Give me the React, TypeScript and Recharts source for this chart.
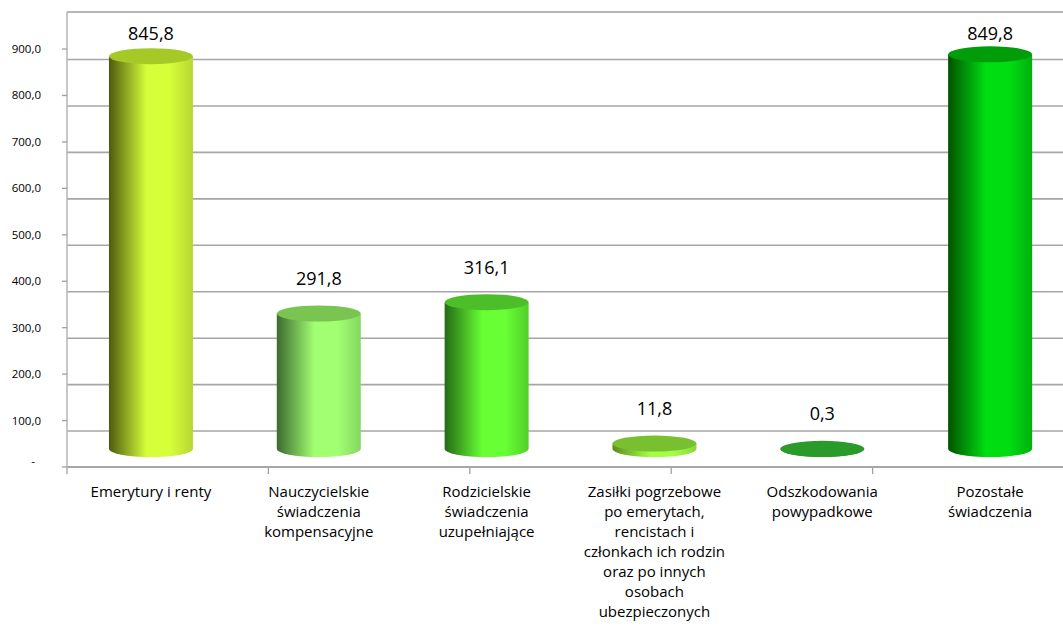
import React from "react";
import {
  ComposedChart,
  Bar,
  XAxis,
  YAxis,
  CartesianGrid,
  LabelList,
  ReferenceLine,
} from "recharts";

// ---------- data ----------
const categories = [
  "Emerytury i renty",
  "Nauczycielskie świadczenia kompensacyjne",
  "Rodzicielskie świadczenia uzupełniające",
  "Zasiłki pogrzebowe po emerytach, rencistach i członkach ich rodzin oraz po innych osobach ubezpieczonych",
  "Odszkodowania powypadkowe",
  "Pozostałe świadczenia",
];
const categoryLines = [
  ["Emerytury i renty"],
  ["Nauczycielskie", "świadczenia", "kompensacyjne"],
  ["Rodzicielskie", "świadczenia", "uzupełniające"],
  ["Zasiłki pogrzebowe", "po emerytach,", "rencistach i", "członkach ich rodzin", "oraz po innych", "osobach", "ubezpieczonych"],
  ["Odszkodowania", "powypadkowe"],
  ["Pozostałe", "świadczenia"],
];
const values = [845.8, 291.8, 316.1, 11.8, 0.3, 849.8];
const yTicks = [0, 100, 200, 300, 400, 500, 600, 700, 800, 900];
const edgeTicks = [0, 1, 2, 3, 4, 5, 6];

// ---------- styles ----------
const barDark = ["#4e5a0e", "#3d6a30", "#246a14", "#5a8a1e", "#1e7a1e", "#005200"];
const barLight = ["#d6ff3a", "#a2ff72", "#68ff34", "#a4ff44", "#2aa02a", "#00de12"];
const barEdge = ["#b8d830", "#86d860", "#50d02a", "#88d838", "#2a9a2a", "#00b00c"];
const barTop = ["#a6c928", "#7ac452", "#4cbe2a", "#78c030", "#2a9a2a", "#009c0a"];

const FONT = "'Open Sans', 'Liberation Sans', sans-serif";
const PLOT_H = 455; // pixel height of the plot area
const K = 0.4644; // px per unit
const labelsMax = PLOT_H / K;
const barsOffset = 18 / K; // bars stand slightly above the front axis
const gridOffset = 10.5 / K; // back-wall gridlines sit lower

const data = categories.map((name, i) => ({ name, value: values[i] }));

const fmt = (v: number) => v.toFixed(1).replace(".", ",");

const Cylinder = (props: any) => {
  const { x, y, width, height, index } = props;
  if (x == null || y == null) return null;
  const rx = width / 2;
  const ry = 8;
  const cx = x + rx;
  const top = y;
  const bot = y + height;
  const d = `M ${x} ${top} L ${x} ${bot} A ${rx} ${ry} 0 0 0 ${x + width} ${bot} L ${x + width} ${top} Z`;
  return (
    <g>
      <path d={d} fill={`url(#cyl${index})`} />
      <ellipse cx={cx} cy={top} rx={rx} ry={ry} fill={barTop[index]} />
    </g>
  );
};

const ValueLabel = (props: any) => {
  const { x, y, width, value } = props;
  const cy = Math.max(33, y - 35);
  return (
    <text
      x={x + width / 2}
      y={cy + 6.5}
      textAnchor="middle"
      fontFamily={FONT}
      fontSize={18}
      fill="#000"
    >
      {fmt(value)}
    </text>
  );
};

const YTick = (props: any) => {
  const { x, y, payload } = props;
  const v = payload.value;
  if (v === 0) {
    return (
      <text x={x - 25} y={y - 2} textAnchor="end" fontFamily={FONT} fontSize={11.5} fill="#000">
        -
      </text>
    );
  }
  return (
    <text x={x - 19} y={y + 4} textAnchor="end" fontFamily={FONT} fontSize={11.5} fill="#000">
      {fmt(v)}
    </text>
  );
};

const XTick = (props: any) => {
  const { x, y, index } = props;
  const lines = categoryLines[index] || [];
  return (
    <text x={x} y={y + 30} textAnchor="middle" fontFamily={FONT} fontSize={15} fill="#000">
      {lines.map((l, i) => (
        <tspan key={i} x={x} dy={i === 0 ? 0 : 20}>
          {l}
        </tspan>
      ))}
    </text>
  );
};

export default function App() {
  return (
    <div
      style={{
        position: "fixed",
        left: 0,
        top: 0,
        width: 1063,
        height: 630,
        overflow: "hidden",
        background: "#fff",
      }}
    >
      <ComposedChart
        width={1100}
        height={630}
        data={data}
        margin={{ top: 12, right: 26, bottom: 161, left: 0 }}
        barCategoryGap="25%"
      >
        <defs>
          {values.map((_, i) => (
            <linearGradient key={i} id={`cyl${i}`} x1="0" y1="0" x2="1" y2="0">
              <stop offset="0%" stopColor={barDark[i]} />
              <stop offset="45%" stopColor={barLight[i]} />
              <stop offset="72%" stopColor={barLight[i]} />
              <stop offset="100%" stopColor={barEdge[i]} />
            </linearGradient>
          ))}
        </defs>
        <XAxis
          xAxisId="edges"
          type="number"
          domain={[0, 6]}
          ticks={edgeTicks}
          allowDataOverflow
          height={1}
          axisLine={false}
          tickLine={{ stroke: "#a0a0a0", strokeWidth: 1.3 }}
          tickSize={6}
          tick={() => <g />}
        />
        <XAxis
          xAxisId="cat"
          dataKey="name"
          type="category"
          height={1}
          interval={0}
          tickLine={false}
          tickSize={0}
          tickMargin={0}
          axisLine={{ stroke: "#a0a0a0", strokeWidth: 1.5 }}
          tick={<XTick />}
        />
        <YAxis
          yAxisId="labels"
          type="number"
          domain={[0, labelsMax]}
          ticks={yTicks}
          allowDataOverflow
          width={67}
          axisLine={{ stroke: "#b4b4b4", strokeWidth: 1.5 }}
          tickLine={{ stroke: "#a0a0a0", strokeWidth: 1.3 }}
          tickSize={5}
          tick={<YTick />}
        />
        <YAxis
          yAxisId="bars"
          type="number"
          domain={[-barsOffset, labelsMax - barsOffset]}
          ticks={[0]}
          allowDataOverflow
          width={0}
          hide
        />
        <YAxis
          yAxisId="grid"
          type="number"
          domain={[gridOffset, labelsMax + gridOffset]}
          ticks={yTicks.slice(1)}
          allowDataOverflow
          width={0}
          hide
        />
        <CartesianGrid
          yAxisId="grid"
          xAxisId="cat"
          vertical={false}
          stroke="#a6a6a6"
          strokeWidth={1.6}
        />
        <ReferenceLine
          yAxisId="labels"
          xAxisId="cat"
          y={labelsMax}
          stroke="#b4b4b4"
          strokeWidth={1.5}
        />
        <Bar
          dataKey="value"
          xAxisId="cat"
          yAxisId="bars"
          shape={<Cylinder />}
          isAnimationActive={false}
        >
          <LabelList dataKey="value" content={<ValueLabel />} />
        </Bar>
      </ComposedChart>
    </div>
  );
}
